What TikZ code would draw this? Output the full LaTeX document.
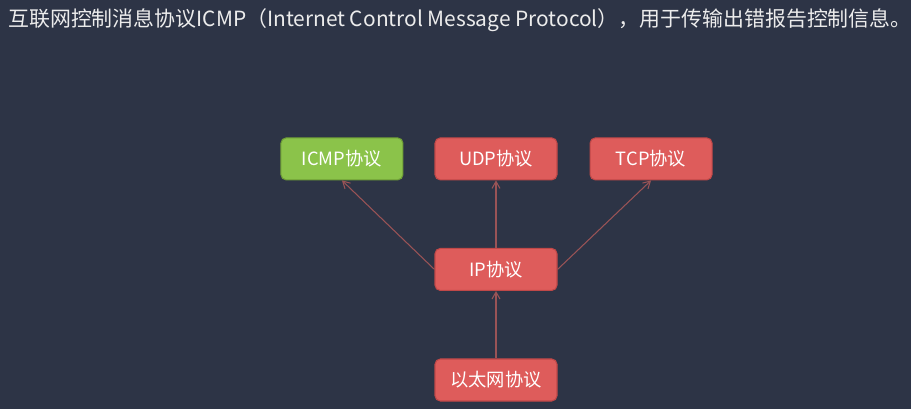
\documentclass[tikz,border=0pt]{standalone}
\usepackage{fontspec}
\setmainfont{Noto Sans CJK SC}
\usepackage{xcolor}
\usetikzlibrary{arrows.meta,positioning}

\definecolor{bgdark}{HTML}{2D3446}
\definecolor{boxred}{HTML}{DE5C5B}
\definecolor{boxgreen}{HTML}{8BC34A}
\definecolor{edgered}{HTML}{C04848}
\definecolor{edgegreen}{HTML}{6E9E36}
\definecolor{arrowred}{HTML}{9A5356}
\definecolor{titlegray}{HTML}{ECECEC}

\begin{document}
\begin{tikzpicture}[
  box/.style={draw, rounded corners=3pt, minimum width=2.44cm,
    minimum height=0.84cm, font=\fontsize{10.4}{12}\selectfont,
    text=white, line width=0.6pt, inner sep=0pt},
  proto/.style={box, fill=boxred, draw=edgered},
  icmpbox/.style={box, fill=boxgreen, draw=edgegreen},
  arr/.style={-{Straight Barb[length=1.4mm, width=1.6mm]}, arrowred, line width=0.6pt},
  title/.style={font=\fontsize{11.9}{14}\selectfont, text=titlegray, inner sep=0pt},
  node distance=1.35cm,
]

% background and page size
\useasboundingbox (0,0) rectangle (18.22,-8.18);
\fill[bgdark] (0,0) rectangle (18.22,-8.18);

\node[title, anchor=west] (head) at (0.16,-0.4)
  {互联网控制消息协议ICMP（Internet Control Message Protocol），用于传输出错报告控制信息。};

\node[proto] (eth) at (9.92,-7.6) {以太网协议};
\node[proto, above=of eth] (ip) {IP协议};
\node[proto, above=of ip] (udp) {UDP协议};
\node[icmpbox, left=0.62cm of udp] (icmp) {ICMP协议};
\node[proto, right=0.64cm of udp] (tcp) {TCP协议};

\draw[arr] (eth) -- (ip);
\draw[arr] (ip.north) -- (udp.south);
\draw[arr] (ip.west) -- (icmp.south);
\draw[arr] (ip.east) -- (tcp.south);

\end{tikzpicture}
\end{document}
